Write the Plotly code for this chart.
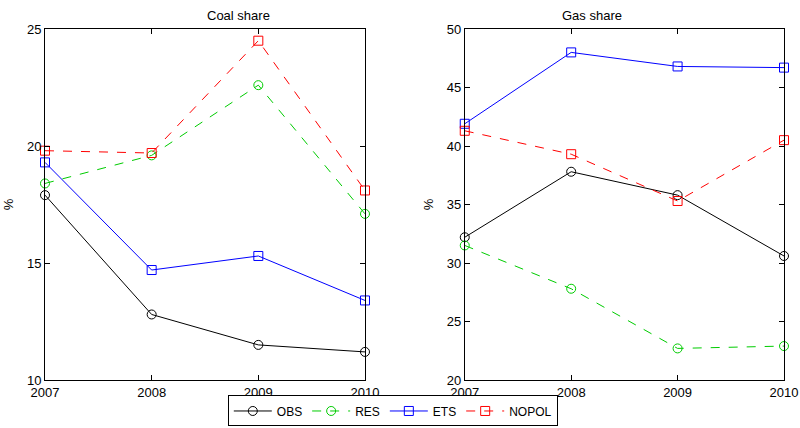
import plotly.graph_objects as go
from plotly.subplots import make_subplots

years = [2007, 2008, 2009, 2010]

# Coal share (%)
coal_obs = [17.9, 12.8, 11.5, 11.2]
coal_res = [18.4, 19.6, 22.6, 17.1]
coal_ets = [19.3, 14.7, 15.3, 13.4]
coal_nopol = [19.8, 19.7, 24.5, 18.1]

# Gas share (%)
gas_obs = [32.2, 37.8, 35.8, 30.6]
gas_res = [31.5, 27.8, 22.7, 22.9]
gas_ets = [41.9, 48.0, 46.8, 46.7]
gas_nopol = [41.3, 39.3, 35.3, 40.5]

series = [
    ("OBS", "black", "solid", "circle-open", coal_obs, gas_obs),
    ("RES", "#00cc00", "dash", "circle-open", coal_res, gas_res),
    ("ETS", "blue", "solid", "square-open", coal_ets, gas_ets),
    ("NOPOL", "red", "dash", "square-open", coal_nopol, gas_nopol),
]

fig = make_subplots(rows=1, cols=2, horizontal_spacing=0.0)

for name, color, dash, symbol, coal, gas in series:
    for col, vals in ((1, coal), (2, gas)):
        fig.add_trace(
            go.Scatter(
                x=years, y=vals, name=name, mode="lines+markers",
                line=dict(color=color, width=1, dash=dash),
                marker=dict(symbol=symbol, size=9, color=color,
                            line=dict(color=color, width=1)),
                cliponaxis=False, showlegend=(col == 1),
            ),
            row=1, col=col,
        )

font = dict(family="Liberation Sans, Arial, sans-serif", size=13, color="black")

axis_common = dict(
    showgrid=False, zeroline=False, showline=True, linecolor="black",
    linewidth=1, mirror="allticks", ticks="inside", ticklen=5,
    tickcolor="black", tickfont=font, automargin=False,
)

fig.update_xaxes(range=[2007, 2010], tickvals=years, **axis_common)
fig.update_xaxes(domain=[0.0, 0.433], row=1, col=1)
fig.update_xaxes(domain=[0.568, 1.0], row=1, col=2)
fig.update_yaxes(range=[10, 25], tickvals=[10, 15, 20, 25], row=1, col=1, **axis_common)
fig.update_yaxes(range=[20, 50], tickvals=[20, 25, 30, 35, 40, 45, 50], row=1, col=2, **axis_common)
fig.update_yaxes(title=dict(text="%", font=font, standoff=10))

fig.add_annotation(text="Coal share", x=0.2165, y=1.0, xref="paper", yref="paper",
                   yanchor="bottom", yshift=4, showarrow=False, font=font)
fig.add_annotation(text="Gas share", x=0.784, y=1.0, xref="paper", yref="paper",
                   yanchor="bottom", yshift=4, showarrow=False, font=font)

fig.update_layout(
    width=800, height=428,
    margin=dict(l=45, r=16, t=29, b=48, autoexpand=False),
    paper_bgcolor="white", plot_bgcolor="white",
    font=font,
    legend=dict(
        orientation="h", xref="container", yref="container",
        x=0.491, xanchor="center", y=0.076, yanchor="top",
        bordercolor="black", borderwidth=1,
        font=dict(family="Liberation Sans, Arial, sans-serif", size=12, color="black"),
        tracegroupgap=0, itemwidth=38,
    ),
)

fig.write_html("out.html")
